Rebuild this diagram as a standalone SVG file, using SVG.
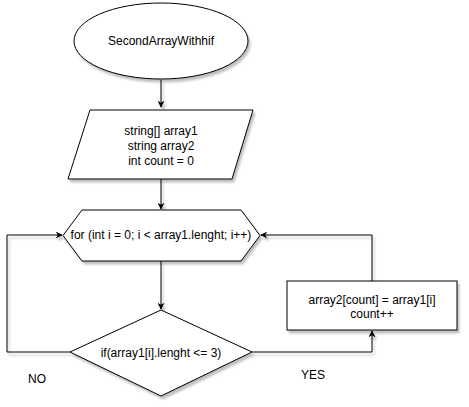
<svg xmlns="http://www.w3.org/2000/svg" width="469" height="407" viewBox="0 0 469 407">
<style>
.shape{fill:#ffffff;stroke:#000000;stroke-width:1;filter:url(#sh)}
.t{font-family:"Liberation Sans",Arial,sans-serif;font-size:12px;fill:#000000;text-anchor:middle;dominant-baseline:central}
.c{fill:none;stroke:#000000;stroke-width:1;filter:url(#sh)}
</style>
<defs>
<filter id="sh" filterUnits="userSpaceOnUse" x="0" y="0" width="469" height="407">
<feDropShadow dx="2" dy="3" stdDeviation="1.2" flood-color="#000000" flood-opacity="0.25"/>
</filter>
<marker id="ah" viewBox="0 0 10 10" refX="9" refY="5" markerWidth="7" markerHeight="7" orient="auto" markerUnits="userSpaceOnUse">
<path d="M0,0 L10,5 L0,10 L3,5 Z" fill="#000000"/>
</marker>
</defs>
<g id="connectors">
<path class="c" d="M161,80 L161,107" marker-end="url(#ah)"/>
<path class="c" d="M161,179 L161,209" marker-end="url(#ah)"/>
<path class="c" d="M161,261 L161,309" marker-end="url(#ah)"/>
<path class="c" d="M70,352 L7,352 L7,235 L62,235" marker-end="url(#ah)"/>
<path class="c" d="M252,352 L372,352 L372,331" marker-end="url(#ah)"/>
<path class="c" d="M372,281 L372,235 L261,235" marker-end="url(#ah)"/>
</g>
<g id="start">
<ellipse class="shape" cx="161" cy="41" rx="87" ry="38"/>
<text class="t" x="161" y="41">SecondArrayWithhif</text>
</g>
<g id="input">
<polygon class="shape" points="90,110 253,110 232,179 68,179"/>
<text class="t" x="161" y="131">string[] array1</text>
<text class="t" x="161" y="146">string array2</text>
<text class="t" x="161" y="161">int count = 0</text>
</g>
<g id="loop">
<polygon class="shape" points="82,210 241,210 260,235.5 241,261 82,261 63,235.5"/>
<text class="t" x="161" y="235">for (int i = 0; i &lt; array1.lenght; i++)</text>
</g>
<g id="condition">
<polygon class="shape" points="161,310 252,352 161,396 70,352"/>
<text class="t" x="161" y="353">if(array1[i].lenght &lt;= 3)</text>
</g>
<g id="assign">
<rect class="shape" x="287" y="281" width="170" height="49"/>
<text class="t" x="372" y="300">array2[count] = array1[i]</text>
<text class="t" x="372" y="314">count++</text>
</g>
<g id="labels">
<text class="t" x="37" y="379">NO</text>
<text class="t" x="313" y="375">YES</text>
</g>
</svg>
